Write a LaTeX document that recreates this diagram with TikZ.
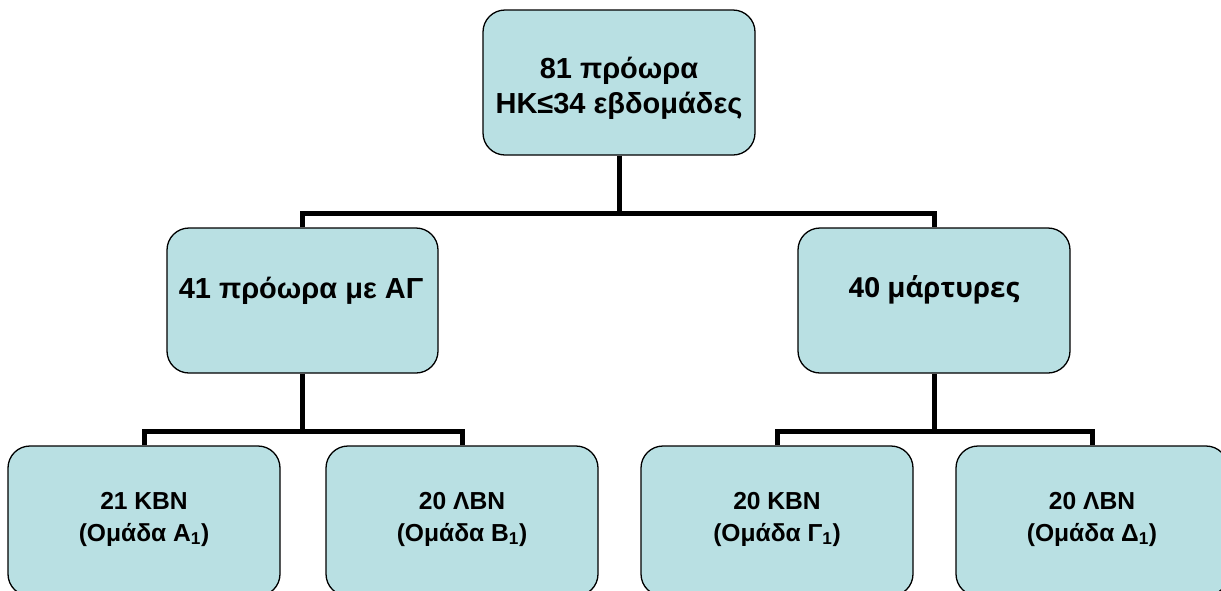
\documentclass[tikz,border=0pt]{standalone}
\usepackage{fontspec}
\setmainfont{Liberation Sans}
\newfontfamily\altfont{Open Sans}
\definecolor{boxfill}{RGB}{185,224,227}
\tikzset{
  box/.style={draw=black, line width=1.3pt, fill=boxfill, rounded corners=22pt, inner sep=0pt},
  conn/.style={draw=black, line width=5pt},
  bigtxt/.style={font=\fontsize{29}{35}\selectfont\bfseries, align=center, inner sep=0pt},
  smalltxt/.style={font=\fontsize{24.6}{32}\selectfont\bfseries, align=center, inner sep=0pt}
}
\begin{document}
\begin{tikzpicture}[x=1pt,y=-1pt]
\useasboundingbox (0,0) rectangle (1221,590);
% boxes
\node[box, minimum width=272pt, minimum height=145pt] (top) at (619,82.5) {};
\node[box, minimum width=271pt, minimum height=145pt] (mL) at (302.5,300.5) {};
\node[box, minimum width=272pt, minimum height=145pt] (mR) at (934,300.5) {};
\node[box, minimum width=272pt, minimum height=150pt] (bA) at (144,521) {};
\node[box, minimum width=272pt, minimum height=150pt] (bB) at (462,521) {};
\node[box, minimum width=272pt, minimum height=150pt] (bC) at (777,521) {};
\node[box, minimum width=272pt, minimum height=150pt] (bD) at (1092,521) {};
% texts
\node[bigtxt] (ttop) at (619,88) {81 πρόωρα\\ΗΚ≤34 εβδομάδες};
\node[bigtxt] (tmL) at (301,291) {41 πρόωρα με ΑΓ};
\node[bigtxt, font=\altfont\fontsize{27.6}{35}\selectfont\bfseries] (tmR) at (934,290) {40 μάρτυρες};
\node[smalltxt] (tA) at (144,519) {21 KBN\\(Ομάδα Α\textsubscript{1})};
\node[smalltxt] (tB) at (462,519) {20 ΛΒΝ\\(Ομάδα Β\textsubscript{1})};
\node[smalltxt] (tC) at (777,519) {20 KBN\\(Ομάδα Γ\textsubscript{1})};
\node[smalltxt] (tD) at (1092,519) {20 ΛΒΝ\\(Ομάδα Δ\textsubscript{1})};
% junctions
\coordinate (j0) at (619,213);
\coordinate (j1) at (302.5,431);
\coordinate (j2) at (934,431);
% connectors
\draw[conn] (top.south) -- (j0);
\draw[conn] (mL.north) |- (j0) -| (mR.north);
\draw[conn] (mL.south) -- (j1);
\draw[conn] (bA.north) |- (j1) -| (bB.north);
\draw[conn] (mR.south) -- (j2);
\draw[conn] (bC.north) |- (j2) -| (bD.north);
\end{tikzpicture}
\end{document}
